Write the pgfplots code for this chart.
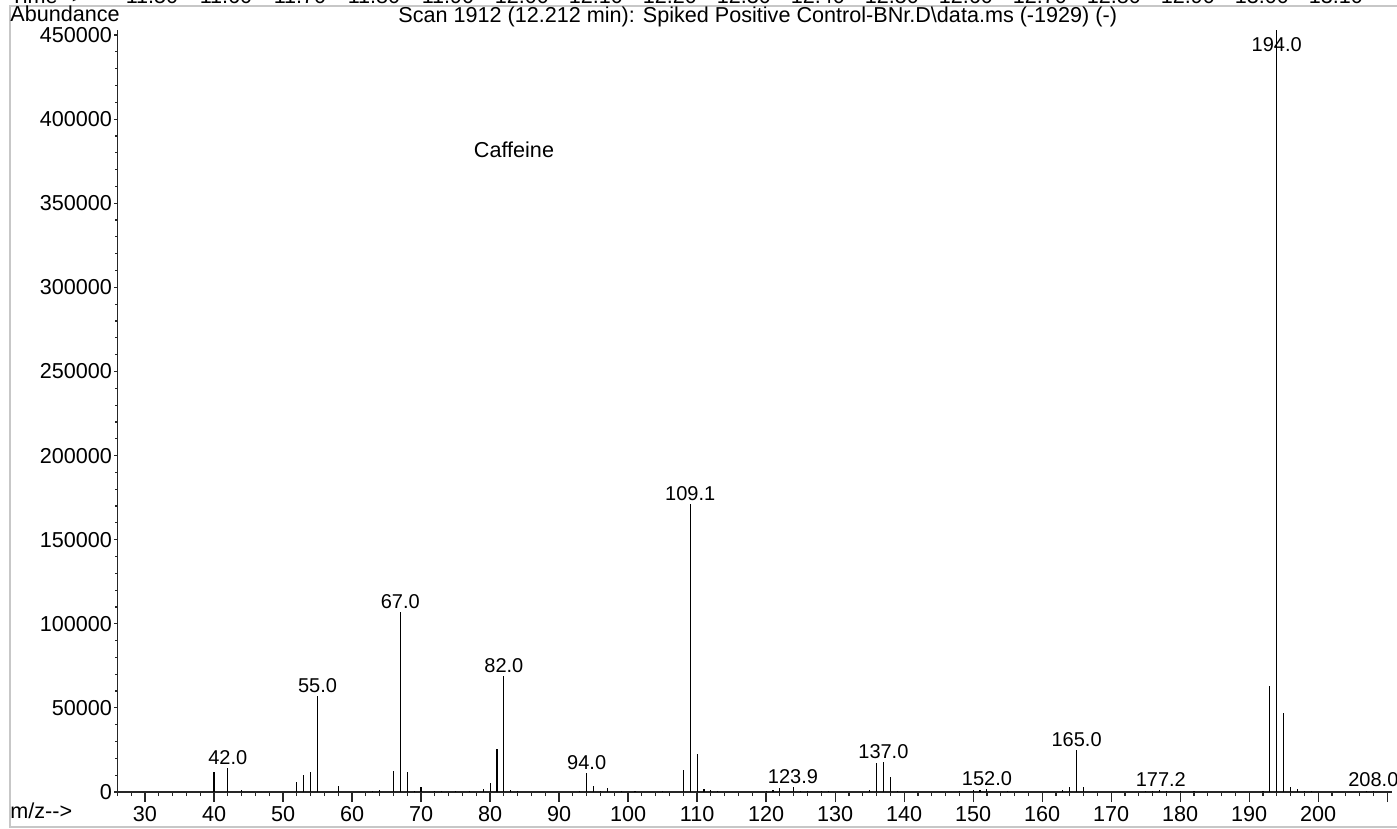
\documentclass[border=0pt]{standalone}
\usepackage{fontspec}
\setmainfont{Liberation Sans}
\usepackage{pgfplots}
\pgfplotsset{compat=1.18}
\usepackage{pgfplotstable}

% scan 1912, m/z vs abundance
\pgfplotstableread{
mz ab
40 12000
42 14300
44 1000
52 6000
53 10000
54 12000
55 57000
58 3500
63 500
64 1200
66 12500
67 107000
68 12000
69 600
70 3000
72 500
73 800
75 700
77 300
79 1600
80 5300
81 25500
82 69000
83 1000
84 600
93 700
94 11500
95 3800
96 800
97 2500
99 500
101 400
105 500
108 13000
109 171000
110 22600
111 1500
112 1000
113 600
120 400
121 1000
122 2500
124 3000
125 600
126 500
128 600
129 400
135 1000
136 17000
137 18000
138 9000
139 500
148 400
150 900
151 1000
152 2000
155 300
163 1000
164 3000
165 25000
166 3200
175 700
176 500
177 900
178 400
180 400
182 300
192 500
193 63000
194 453000
195 47000
196 3200
197 1500
198 600
199 500
207 400
208 800
}\spectrum

% peak labels
\pgfplotstableread{
mz ab lab
42 14300 42.0
55 57000 55.0
67 107000 67.0
82 69000 82.0
94 11500 94.0
109 171000 109.1
123.9 3000 123.9
137 18000 137.0
152 2000 152.0
165 25000 165.0
177.2 1000 177.2
194 438100 194.0
208 1000 208.0
}\peaklabels

\begin{document}
\fontsize{10.8bp}{13bp}\selectfont
\begin{tikzpicture}
\useasboundingbox (-58.7bp,-18.5bp) rectangle (639.8bp,396bp);
\clip (-58.7bp,-18.5bp) rectangle (639.8bp,396bp);

% data + x axis
\begin{axis}[
  at={(0,0)}, anchor=south west,
  width=637.3bp, height=381bp, scale only axis,
  xmin=26, xmax=210.7, ymin=0, ymax=453000,
  axis x line=bottom, axis y line=none,
  axis line style={-, black!85, line width=0.6bp},
  xtick={30,40,...,210},
  xticklabels={30,40,50,60,70,80,90,100,110,120,130,140,150,160,170,180,190,200,{}},
  minor xtick={26,28,...,210},
  tick align=outside,
  major tick length=5bp, minor tick length=2bp,
  tick style={black!85, line width=0.6bp},
  xticklabel style={inner sep=1bp, yshift=-1bp},
  clip=false,
]
\addplot[ycomb, black, line width=0.55bp, mark=none] table[x=mz, y=ab] {\spectrum};
\addplot[draw=none, mark=none, nodes near coords, point meta=explicit symbolic,
  nodes near coords style={anchor=south, inner sep=1.5bp, font=\fontsize{10bp}{12bp}\selectfont}]
  table[x=mz, y=ab, meta=lab] {\peaklabels};
\end{axis}

% y axis
\begin{axis}[
  at={(0,0)}, anchor=south west,
  width=637.3bp, height=381bp, scale only axis,
  xmin=26, xmax=210.7, ymin=0, ymax=453000,
  axis x line=none, axis y line=left,
  axis line style={-, black!85, line width=0.6bp},
  ytick={0,50000,...,450000},
  minor y tick num=4,
  tick align=outside,
  major tick length=1.5bp, minor tick length=1bp,
  tick style={black!85, line width=0.6bp},
  scaled y ticks=false,
  yticklabel style={inner xsep=1bp, inner ysep=0.5bp, /pgf/number format/.cd, fixed, 1000 sep={}, assume math mode=true},
]
\end{axis}

% frame and texts, in pixel units of the reference
\begin{scope}[shift={(-58.7bp,396bp)}, x=0.5bp, y=-0.5bp]
  \draw[black!22, line width=0.8bp] (1397,6) -- (10,6) -- (10,827) -- (1397,827);
  \node[anchor=base west, inner sep=0] at (10,4) {Time-{}-{}>};
  \foreach \i/\t in {0/11.50,1/11.60,2/11.70,3/11.80,4/11.90,5/12.00,6/12.10,7/12.20,8/12.30,
                     9/12.40,10/12.50,11/12.60,12/12.70,13/12.80,14/12.90,15/13.00,16/13.10}
    \node[anchor=base, inner sep=0] at ({152+74*\i},4) {\t};
  \node[anchor=base west, inner sep=0] at (10,22) {Abundance};
  \node[anchor=base west, inner sep=0] at (398,23)
    {Scan 1912 (12.212 min): Spiked Positive Control-BNr.D\textbackslash data.ms (-1929) (-)};
  \node[anchor=base west, inner sep=0] at (10,819) {m/z-{}-{}>};
  \node[inner sep=0] at (514,150) {Caffeine};
\end{scope}
\end{tikzpicture}
\end{document}
